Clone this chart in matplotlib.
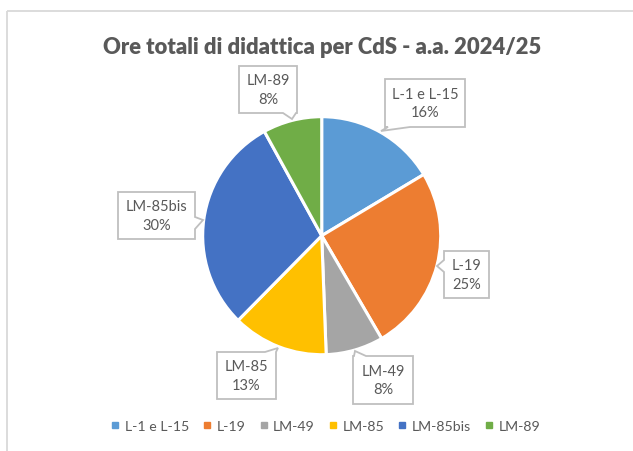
import matplotlib
matplotlib.use("Agg")
import matplotlib.pyplot as plt
from matplotlib.patches import Polygon
from matplotlib.lines import Line2D

plt.rcParams['font.family'] = ['Lato', 'DejaVu Sans']

# dati (quote percentuali)
categorie = ["L-1 e L-15", "L-19", "LM-49", "LM-85", "LM-85bis", "LM-89"]
quote = [16.4, 25.2, 7.8, 13.0, 29.6, 8.0]
colori = ["#5B9BD5", "#ED7D31", "#A5A5A5", "#FFC000", "#4472C4", "#70AD47"]
titolo = "Ore totali di didattica per CdS - a.a. 2024/25"

W, H = 633, 452
TXT = "#595959"
BORDO = "#BFBFBF"

fig = plt.figure(figsize=(W / 100, H / 100), dpi=100)
ax = fig.add_axes([0, 0, 1, 1])


def Y(y):
    # coordinate in pixel dall'alto -> coordinate dal basso
    return H - y


ax.pie(quote, colors=colori, startangle=90, counterclock=False,
       center=(321.7, Y(236.7)), radius=119,
       wedgeprops=dict(edgecolor="white", linewidth=2.2))
ax.set_xlim(0, W)
ax.set_ylim(0, H)
ax.axis("off")

# cornice dell'area grafico
ax.plot([7, 7], [0, Y(12)], color="#D9D9D9", lw=1.3, solid_capstyle="butt")
ax.plot([7, W + 5], [Y(12), Y(12)], color="#D9D9D9", lw=1.3, solid_capstyle="butt")

ax.text(322, Y(48), titolo, ha="center", va="center", fontsize=15.8,
        fontweight="heavy", color=TXT)


def callout(testo, box, side, base, tip):
    x0, y0, x1, y1 = box
    a, b = base
    if side == "bottom":
        pts = [(x0, y0), (x1, y0), (x1, y1), (b, y1), tip, (a, y1), (x0, y1)]
    elif side == "top":
        pts = [(x0, y0), (a, y0), tip, (b, y0), (x1, y0), (x1, y1), (x0, y1)]
    elif side == "left":
        pts = [(x0, y0), (x1, y0), (x1, y1), (x0, y1), (x0, b), tip, (x0, a)]
    else:
        pts = [(x0, y0), (x1, y0), (x1, a), tip, (x1, b), (x1, y1), (x0, y1)]
    pts = [(px, Y(py)) for px, py in pts]
    ax.add_patch(Polygon(pts, closed=True, facecolor="white", edgecolor=BORDO,
                         lw=1.3, joinstyle="miter", zorder=5))
    cx = (x0 + x1) / 2
    cy = (y0 + y1) / 2
    ax.text(cx, Y(cy), testo, ha="center", va="center", fontsize=10.5,
            color=TXT, linespacing=1.45, zorder=6)


etichette = [f"{c}\n{round(q):.0f}%" for c, q in zip(categorie, quote)]

callout(etichette[0], (385, 80, 465, 128), "bottom", (388, 410), (381, 132))
callout(etichette[1], (444, 252, 489, 299), "left", (261, 273), (437, 267))
callout(etichette[2], (353, 357, 413, 405), "top", (354, 366), (355, 352))
callout(etichette[3], (217, 353, 276, 400), "top", (265, 276), (278, 349))
callout(etichette[4], (118, 193, 195, 240), "right", (218, 230), (203, 221))
callout(etichette[5], (239, 67, 297, 114), "bottom", (283, 296), (292, 120))

handles = [Line2D([], [], marker="s", linestyle="", markersize=4,
                  markerfacecolor=c, markeredgecolor=c) for c in colori]
fig.legend(handles, categorie, loc="center", bbox_to_anchor=(326 / W, 1 - 427 / H),
           ncol=6, frameon=False, fontsize=10.2, labelcolor=TXT,
           handlelength=0.5, handletextpad=0.4, columnspacing=1.05,
           borderpad=0, borderaxespad=0)

fig.savefig("out.png", dpi=100, facecolor="white")
